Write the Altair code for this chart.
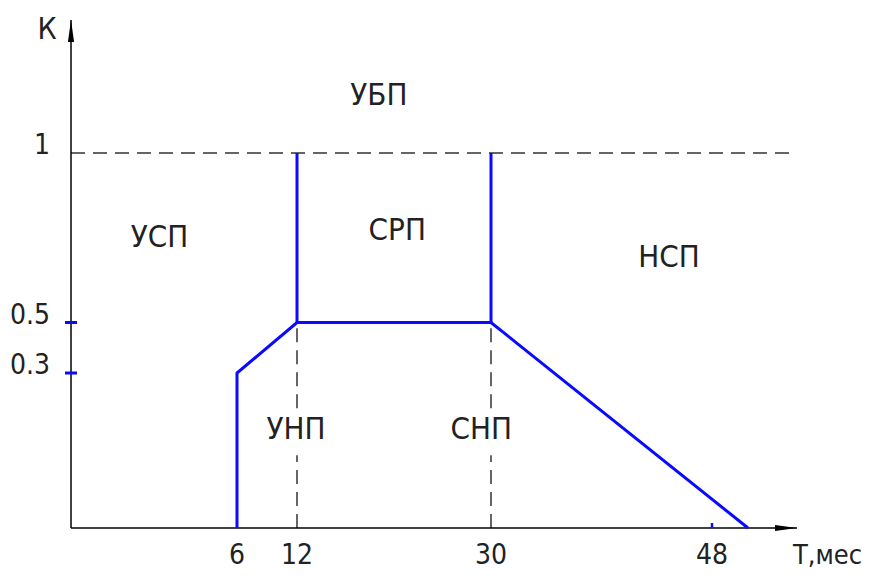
import altair as alt
import pandas as pd

# ---- data ----
x_ticks = [6, 12, 30, 48]
x_tick_labels = ["6", "12", "30", "48"]
y_ticks = [0.3, 0.5, 1]
y_tick_labels = ["0.3", "0.5", "1"]

boundary_T = [6, 6, 12, 30, 51]
boundary_K = [0, 0.3, 0.5, 0.5, 0]

upper_T = [12, 30]
upper_K0 = [0.5, 0.5]
upper_K1 = [1, 1]

region_names = ["УБП", "УСП", "СРП", "НСП", "УНП", "СНП"]
region_T = [19.6, 3.2, 21.3, 44.5, 11.9, 29.1]
region_K = [1.17, 0.75, 0.77, 0.69, 0.19, 0.19]

T_max = 55
K_max = 1.4

FONT = "DejaVu Sans Condensed, Liberation Sans Narrow, sans-serif"
BLUE = "#0a0aff"
DASH_C = "#333333"
TXT_C = "#222222"

# schematic (non-uniform) axes, as in the drawing
xs = alt.Scale(domain=[0, 6, 12, 30, 48, 51, T_max],
               range=[0, 166, 226, 420, 641, 677, 726], nice=False, zero=False)
ys = alt.Scale(domain=[0, 0.3, 0.5, 1, K_max],
               range=[508, 353, 302.5, 133, 0], nice=False, zero=False)

X = lambda f: alt.X(f, type="quantitative", scale=xs, axis=None)
Y = lambda f: alt.Y(f, type="quantitative", scale=ys, axis=None)

# axes lines
axes_df = pd.DataFrame({"x": [0, 0], "x2": [T_max, 0], "y": [0, 0], "y2": [0, K_max]})
axes = alt.Chart(axes_df).mark_rule(color="black", strokeWidth=1.5).encode(
    x=X("x"), x2="x2", y=Y("y"), y2="y2")

arrow_x = alt.Chart(pd.DataFrame({"x": [T_max], "y": [0]})).mark_point(
    shape="M0,0 L-2,-0.28 L-2,0.28 Z", size=484, filled=True, color="black",
    opacity=1, strokeWidth=0).encode(x=X("x"), y=Y("y"))
arrow_y = alt.Chart(pd.DataFrame({"x": [0], "y": [K_max]})).mark_point(
    shape="M0,0 L-0.28,2 L0.28,2 Z", size=484, filled=True, color="black",
    opacity=1, strokeWidth=0).encode(x=X("x"), y=Y("y"))

# dashed guide lines
dash_df = pd.DataFrame({
    "x": [0, 12, 12, 30, 30],
    "x2": [54.8, 12, 12, 30, 30],
    "y": [1, 0, 0.232, 0, 0.232],
    "y2": [1, 0.141, 0.5, 0.141, 0.5],
})
dashes = alt.Chart(dash_df).mark_rule(color=DASH_C, strokeWidth=1.5,
                                      strokeDash=[14, 8]).encode(
    x=X("x"), x2="x2", y=Y("y"), y2="y2")

# blue boundary
bdf = pd.DataFrame({"T": boundary_T, "K": boundary_K, "o": list(range(len(boundary_T)))})
boundary = alt.Chart(bdf).mark_line(color=BLUE, strokeWidth=3, strokeJoin="miter").encode(
    x=X("T"), y=Y("K"), order="o:O")

udf = pd.DataFrame({"T": upper_T, "K0": upper_K0, "K1": upper_K1})
uppers = alt.Chart(udf).mark_rule(color=BLUE, strokeWidth=3).encode(
    x=X("T"), y=Y("K0"), y2="K1")

# blue ticks
ytick_df = pd.DataFrame({"K": y_ticks[:2]})
yticks = alt.Chart(ytick_df).mark_rule(color=BLUE, strokeWidth=3).encode(
    x=alt.value(-6), x2=alt.value(6), y=Y("K"))
xtick_df = pd.DataFrame({"T": [x_ticks[3]]})
xticks = alt.Chart(xtick_df).mark_rule(color=BLUE, strokeWidth=2.5).encode(
    x=X("T"), y=alt.value(503), y2=alt.value(508))

# tick labels
ylab_df = pd.DataFrame({"K": y_ticks, "lab": y_tick_labels})
ylabels = alt.Chart(ylab_df).mark_text(font=FONT, fontSize=28, align="right",
                                       baseline="alphabetic", dy=1,
                                       color=TXT_C).encode(
    x=alt.value(-21), y=Y("K"), text="lab:N")
xlab_df = pd.DataFrame({"T": x_ticks, "lab": x_tick_labels})
xlabels = alt.Chart(xlab_df).mark_text(font=FONT, fontSize=28, align="center",
                                       baseline="alphabetic", color=TXT_C).encode(
    x=X("T"), y=alt.value(544), text="lab:N")

# axis titles
ktitle = alt.Chart(pd.DataFrame({"K": [1.37], "t": ["К"]})).mark_text(
    font=FONT, fontSize=30, align="center", baseline="middle", color=TXT_C).encode(
    x=alt.value(-24), y=Y("K"), text="t:N")
ttitle = alt.Chart(pd.DataFrame({"T": [T_max], "t": ["Т,мес"]})).mark_text(
    font=FONT, fontSize=27, align="left", baseline="alphabetic", dx=-4,
    color=TXT_C).encode(x=X("T"), y=alt.value(544), text="t:N")

# region labels
rdf = pd.DataFrame({"T": region_T, "K": region_K, "name": region_names})
regions = alt.Chart(rdf).mark_text(font=FONT, fontSize=31, align="center",
                                   baseline="middle", color=TXT_C).encode(
    x=X("T"), y=Y("K"), text="name:N")

chart = alt.layer(
    dashes, axes, arrow_x, arrow_y, boundary, uppers, yticks, xticks,
    ylabels, xlabels, ktitle, ttitle, regions
).properties(
    width=726, height=508,
    padding={"left": 63, "top": 12, "right": 65, "bottom": 43},
    autosize=alt.AutoSizeParams(type="none"),
    background="white",
).configure_view(stroke=None)

chart.save("out.html", embed_options={"renderer": "svg", "actions": False})
